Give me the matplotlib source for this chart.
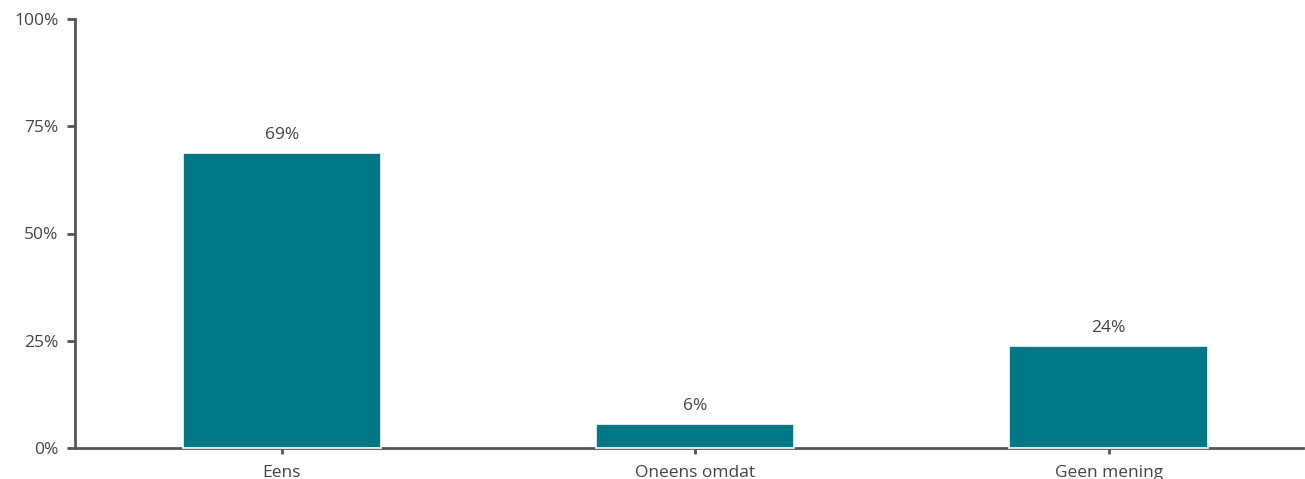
import numpy as np
import matplotlib.pyplot as plt
from matplotlib.ticker import PercentFormatter

categories = ["Eens", "Oneens omdat", "Geen mening"]
values = [68.8, 5.6, 23.8]
labels = ["69%", "6%", "24%"]

plt.rcParams['font.family'] = ['Open Sans', 'DejaVu Sans']

fig = plt.figure(figsize=(13.05, 4.79), dpi=100)
ax = fig.add_axes([75/1305, 1-448/479, 1228/1305, 429/479])

x = np.arange(len(categories))
bars = ax.bar(x, values, width=0.48, color="#007784", edgecolor="white",
              linewidth=1.2, zorder=3, clip_on=False)

for b, lab in zip(bars, labels):
    ax.annotate(lab, (b.get_x() + b.get_width()/2, b.get_height()),
                xytext=(0, 7), textcoords="offset points",
                ha="center", va="bottom", fontsize=12.5, color="#444444")

ax.set_xlim(-0.5, 2.47)
ax.set_ylim(0, 100)
ax.set_yticks([0, 25, 50, 75, 100])
ax.yaxis.set_major_formatter(PercentFormatter(decimals=0))
ax.set_xticks(x)
ax.set_xticklabels(categories)

for s in ["top", "right"]:
    ax.spines[s].set_visible(False)
for s in ["left", "bottom"]:
    ax.spines[s].set_color("#555555")
    ax.spines[s].set_linewidth(2)
    ax.spines[s].set_zorder(2)

ax.tick_params(axis="y", length=6, width=2, color="#555555", labelsize=12.5, labelcolor="#444444", pad=6)
ax.tick_params(axis="x", length=4, width=2, color="#555555", labelsize=12.5, labelcolor="#444444", pad=8)

fig.savefig("out.png", dpi=100)
